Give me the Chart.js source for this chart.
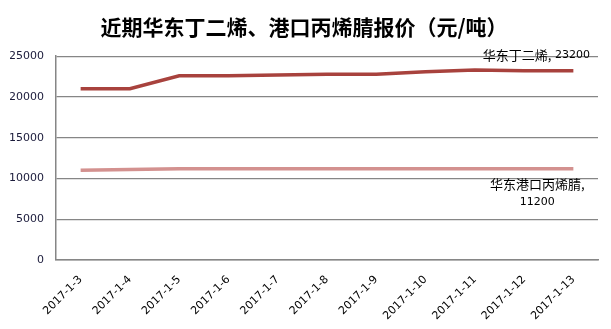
<!DOCTYPE html>
<html lang="zh">
  <head>
    <meta charset="UTF-8" />
    <title>近期华东丁二烯、港口丙烯腈报价</title>
    <script src="https://cdn.jsdelivr.net/npm/chart.js"></script>
    <style>
      html, body { margin: 0; padding: 0; background: #fff; }
    </style>
  </head>
  <body>
    <canvas id="priceChart" width="611" height="329"></canvas>

    <script>
      // data
      const dates = ["2017-1-3", "2017-1-4", "2017-1-5", "2017-1-6", "2017-1-7", "2017-1-8",
        "2017-1-9", "2017-1-10", "2017-1-11", "2017-1-12", "2017-1-13"];
      const butadiene = [21000, 21000, 22600, 22600, 22700, 22800, 22800, 23100, 23300, 23200, 23200];
      const acrylonitrile = [11000, 11100, 11200, 11200, 11200, 11200, 11200, 11200, 11200, 11200, 11200];
      const yTicks = [0, 5000, 10000, 15000, 20000, 25000];

      const cjk = "'Noto Sans CJK SC', sans-serif";
      const num = "'DejaVu Sans', sans-serif";

      // end-of-line labels, placed from the last point of each series
      const endLabels = {
        id: "endLabels",
        afterDatasetsDraw(chart) {
          const ctx = chart.ctx;
          const p1 = chart.getDatasetMeta(0).data[butadiene.length - 1];
          const p2 = chart.getDatasetMeta(1).data[acrylonitrile.length - 1];
          ctx.save();
          ctx.fillStyle = "#000";
          ctx.textBaseline = "middle";

          // 华东丁二烯, 23200
          ctx.font = "13px " + cjk;
          const a = "华东丁二烯,";
          ctx.textAlign = "left";
          const aw = ctx.measureText(a).width;
          ctx.font = "11px " + num;
          const b = " " + butadiene[butadiene.length - 1];
          const bw = ctx.measureText(b).width;
          const x0 = p1.x - 37 - (aw + bw) / 2;
          ctx.font = "13px " + cjk;
          ctx.fillText(a, x0, p1.y - 16);
          ctx.font = "11px " + num;
          ctx.fillText(b, x0 + aw, p1.y - 16);

          // 华东港口丙烯腈, 11200
          ctx.textAlign = "center";
          ctx.font = "13px " + cjk;
          ctx.fillText("华东港口丙烯腈,", p2.x - 36, p2.y + 15);
          ctx.font = "11px " + num;
          ctx.fillText(String(acrylonitrile[acrylonitrile.length - 1]), p2.x - 36, p2.y + 33);
          ctx.restore();
        }
      };

      new Chart(document.getElementById("priceChart"), {
        type: "line",
        data: {
          labels: dates,
          datasets: [
            {
              label: "华东丁二烯",
              data: butadiene,
              borderColor: "#a8423d",
              borderWidth: 3.5,
              pointRadius: 0,
              tension: 0
            },
            {
              label: "华东港口丙烯腈",
              data: acrylonitrile,
              borderColor: "#d3918f",
              borderWidth: 3.5,
              pointRadius: 0,
              tension: 0
            }
          ]
        },
        options: {
          responsive: false,
          animation: false,
          layout: { padding: { left: 10, right: 13, top: 0, bottom: 0 } },
          plugins: {
            legend: { display: false },
            tooltip: { enabled: false },
            title: {
              display: true,
              text: "近期华东丁二烯、港口丙烯腈报价（元/吨）",
              color: "#000",
              font: { family: cjk, size: 21, weight: "bold", lineHeight: 1.2 },
              padding: { top: 14, bottom: 17 }
            }
          },
          scales: {
            x: {
              offset: true,
              grid: { display: false },
              border: { display: true, color: "#868686", width: 1.5 },
              ticks: {
                color: "#000",
                font: { family: num, size: 11 },
                minRotation: 45,
                maxRotation: 45,
                autoSkip: false,
                padding: 5
              },
              afterFit: (s) => { s.height = 69; }
            },
            y: {
              min: 0,
              max: 25000,
              afterBuildTicks: (s) => { s.ticks = yTicks.map((v) => ({ value: v })); },
              grid: { color: "#868686", lineWidth: 1.2, drawTicks: false },
              border: { display: true, color: "#868686", width: 1.5 },
              ticks: {
                color: "#1a1a3a",
                font: { family: num, size: 11 },
                padding: 12,
                callback: (v) => String(v)
              },
              afterFit: (s) => { s.width = 46; }
            }
          }
        },
        plugins: [endLabels]
      });
    </script>
  </body>
</html>
